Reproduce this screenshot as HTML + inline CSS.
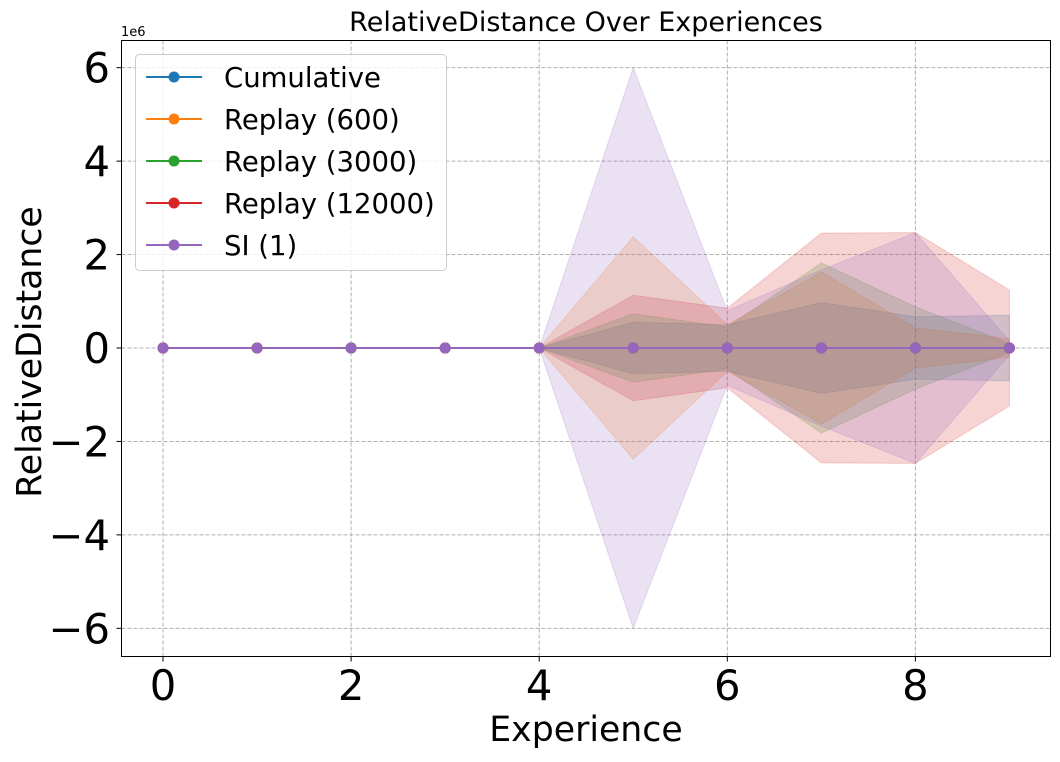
<!DOCTYPE html>
<html><head><meta charset="utf-8"><style>
body{margin:0;background:#fff;}
svg text{font-family:"DejaVu Sans","Liberation Sans",sans-serif;}
</style></head><body>
<svg id="chart" width="1060" height="757" xmlns="http://www.w3.org/2000/svg">
<rect width="1060" height="757" fill="#fff"/>
<g id="grid"></g>
<g id="bands"></g>
<g id="lines"></g>
<rect x="121.5" y="40.5" width="929" height="616" fill="none" stroke="#000" stroke-width="1"/>
<g id="ticks"></g>
<text x="586" y="31" font-size="27" text-anchor="middle">RelativeDistance Over Experiences</text>
<text x="586" y="741" font-size="34.7" text-anchor="middle">Experience</text>
<text x="0" y="0" font-size="34.7" text-anchor="middle" transform="translate(41,352) rotate(-90)">RelativeDistance</text>
<text x="121" y="36" font-size="13">1e6</text>
<g id="legend"></g>
</svg>
<script>
const experiences=[0,1,2,3,4,5,6,7,8,9];
const seriesNames=["Cumulative","Replay (600)","Replay (3000)","Replay (12000)","SI (1)"];
const seriesColors=["#1f77b4","#ff7f0e","#2ca02c","#d62728","#9467bd"];
const meanCumulative=[0,0,0,0,0,0,0,0,0,0];
const meanReplay600=[0,0,0,0,0,0,0,0,0,0];
const meanReplay3000=[0,0,0,0,0,0,0,0,0,0];
const meanReplay12000=[0,0,0,0,0,0,0,0,0,0];
const meanSI=[0,0,0,0,0,0,0,0,0,0];
const stdCumulative=[0,0,0,0,0,0.55e6,0.5e6,0.97e6,0.67e6,0.7e6];
const stdReplay600=[0,0,0,0,0,2.38e6,0.5e6,1.63e6,0.43e6,0.2e6];
const stdReplay3000=[0,0,0,0,0,0.73e6,0.45e6,1.82e6,0.88e6,0.1e6];
const stdReplay12000=[0,0,0,0,0,1.13e6,0.85e6,2.46e6,2.47e6,1.24e6];
const stdSI=[0,0,0,0,0,6.0e6,0.8e6,1.67e6,2.47e6,0.15e6];
const xTicks=[0,2,4,6,8];
const yTicks=[-6,-4,-2,0,2,4,6];
const means=[meanCumulative,meanReplay600,meanReplay3000,meanReplay12000,meanSI];
const stds=[stdCumulative,stdReplay600,stdReplay3000,stdReplay12000,stdSI];
const NS="http://www.w3.org/2000/svg";
function X(v){return 163+v*94.05;}
function Y(v){return 348-v/1e6*46.72;}
function mk(tag,attrs,parent){const e=document.createElementNS(NS,tag);for(const k in attrs)e.setAttribute(k,attrs[k]);parent.appendChild(e);return e;}
const grid=document.getElementById('grid'),ticks=document.getElementById('ticks');
xTicks.forEach(t=>{
  const l=mk('line',{x1:X(t),x2:X(t),y1:40.5,y2:656.5,stroke:'#b0b0b0','stroke-dasharray':'4,2','stroke-width':1},grid);
  
  
  mk('line',{x1:X(t),x2:X(t),y1:656.5,y2:661.5,stroke:'#000'},ticks);
  const tx=mk('text',{x:X(t),y:700,'font-size':41.7,'text-anchor':'middle'},ticks);
  tx.textContent=t;
  
  
});
yTicks.forEach(t=>{
  const y=Y(t*1e6);
  const l=mk('line',{x1:121.5,x2:1050.5,y1:y,y2:y,stroke:'#b0b0b0','stroke-dasharray':'4,2','stroke-width':1},grid);
  
  
  mk('line',{x1:116.5,x2:121.5,y1:y,y2:y,stroke:'#000'},ticks);
  const tx=mk('text',{x:110,y:y+15,'font-size':41.7,'text-anchor':'end'},ticks);
  tx.textContent=(t<0?'\u2212':'')+Math.abs(t);
  
  
});
const bands=document.getElementById('bands'),lines=document.getElementById('lines');
means.forEach((m,i)=>{
  let pts=experiences.map((e,j)=>X(e)+','+Y(m[j]+stds[i][j]));
  pts=pts.concat(experiences.slice().reverse().map((e,jj)=>{const j=experiences.length-1-jj;return X(e)+','+Y(m[j]-stds[i][j]);}));
  const p=mk('polygon',{points:pts.join(' '),fill:seriesColors[i],'fill-opacity':0.2,stroke:seriesColors[i],'stroke-opacity':0.2},bands);
  
  
});
means.forEach((m,i)=>{
  const pl=mk('polyline',{points:experiences.map((e,j)=>X(e)+','+Y(m[j])).join(' '),fill:'none',stroke:seriesColors[i],'stroke-width':2},lines);
  
  
  experiences.forEach((e,j)=>{
    const c=mk('circle',{cx:X(e),cy:Y(m[j]),r:5.5,fill:seriesColors[i]},lines);
    
    
  });
});
const lg=document.getElementById('legend');
mk('rect',{x:135.5,y:54.5,width:311,height:216,rx:4,fill:'#fff','fill-opacity':0.8,stroke:'#ccc'},lg);
seriesNames.forEach((n,i)=>{
  const y=77+i*42;
  const g=mk('g',{},lg);
  
  
  mk('line',{x1:146,x2:202,y1:y,y2:y,stroke:seriesColors[i],'stroke-width':2},g);
  mk('circle',{cx:174,cy:y,r:5.5,fill:seriesColors[i]},g);
  const t=mk('text',{x:224,y:y+10,'font-size':27.5},g);
  t.textContent=n;
});
</script>
</body></html>
